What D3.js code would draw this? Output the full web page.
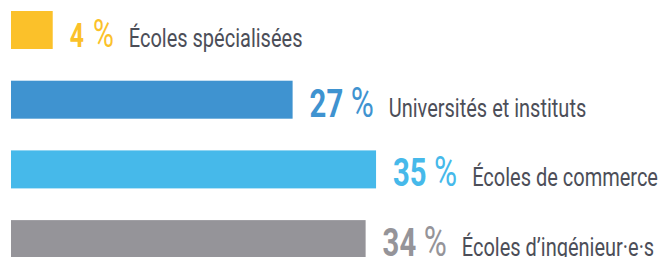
<!DOCTYPE html>
<html><head><meta charset="utf-8">
<script src="https://cdn.jsdelivr.net/npm/d3@7"></script>
<style>html,body{margin:0;padding:0;background:#fff;}svg{display:block;}</style>
</head><body>
<svg id="chart" width="660" height="257"></svg>
<script>
const categories = ["Écoles spécialisées", "Universités et instituts", "Écoles de commerce", "Écoles d’ingénieur·e·s"];
const values = [4, 27, 35, 34];
const colors = ["#fbc12a", "#3f93d0", "#46b9ea", "#959499"];

const svg = d3.select("#chart");
const x = d3.scaleLinear().domain([0, 100]).range([11, 1054]);
const y = d3.scaleBand().domain(categories).range([11, 258.1]).paddingInner(0.455).paddingOuter(0);
const bw = y.bandwidth();

const rows = categories.map((c, i) => ({cat: c, value: values[i], color: colors[i]}));

svg.selectAll("rect.bar").data(rows).join("rect")
  .attr("class", "bar")
  .attr("x", x(0))
  .attr("y", d => y(d.cat))
  .attr("width", d => x(d.value) - x(0))
  .attr("height", bw)
  .attr("fill", d => d.color);

const font = "Roboto, 'Noto Sans', sans-serif";
const numScale = 0.75, catScale = 0.8;

rows.forEach(d => {
  const g = svg.append("g")
    .attr("transform", `translate(${x(d.value) + 17},${y(d.cat) + bw - 2})`);
  const big = d.value >= 10;
  const t = g.append("text")
    .attr("transform", `scale(${numScale},1)`)
    .attr("font-family", font)
    .attr("fill", d.color);
  t.append("tspan").attr("font-weight", 700).attr("font-size", big ? 39 : 33).text(d.value);
  t.append("tspan").attr("font-weight", 400).attr("font-size", big ? 42 : 38).attr("dx", big ? 10 : 12).text("%");
  const w = t.node().getBBox().width * numScale;
  g.append("text")
    .attr("transform", `translate(${w + 15},0) scale(${catScale},1)`)
    .attr("font-family", font)
    .attr("font-size", 25)
    .attr("fill", "#4c4e58")
    .text(d.cat);
});
</script>
</body></html>
